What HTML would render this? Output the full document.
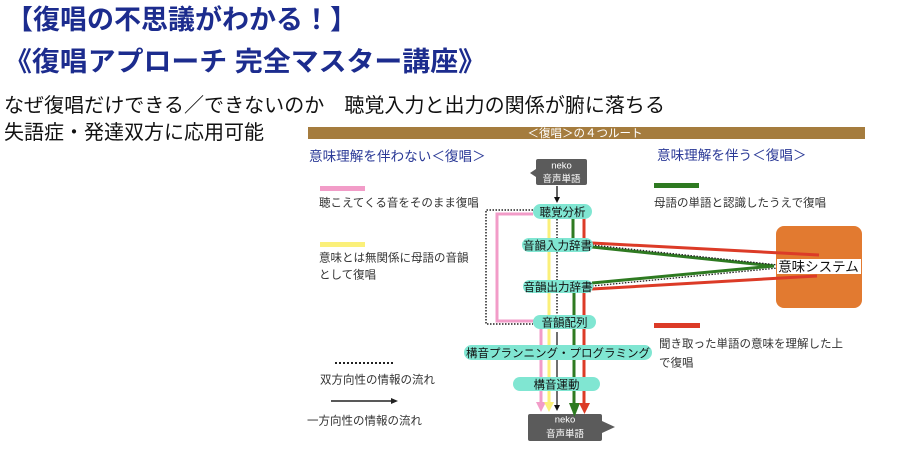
<!DOCTYPE html>
<html><head><meta charset="utf-8">
<style>
html,body{margin:0;padding:0;background:#fff;}
body{width:920px;height:450px;overflow:hidden;}
svg{display:block;}
text{font-family:"Liberation Sans","Noto Sans CJK JP",sans-serif;}
</style></head>
<body>
<svg width="920" height="450" viewBox="0 0 920 450" xmlns="http://www.w3.org/2000/svg">
<!-- Titles -->
<text x="6" y="29" font-size="27" font-weight="bold" fill="#1c2c8e" textLength="351" lengthAdjust="spacingAndGlyphs">【復唱の不思議がわかる！】</text>
<text x="4" y="71" font-size="27" font-weight="bold" fill="#1c2c8e" textLength="482" lengthAdjust="spacingAndGlyphs">《復唱アプローチ 完全マスター講座》</text>
<text x="4" y="112" font-size="20" fill="#111" textLength="661" lengthAdjust="spacingAndGlyphs">なぜ復唱だけできる／できないのか　聴覚入力と出力の関係が腑に落ちる</text>
<text x="4" y="139" font-size="20" fill="#111" textLength="260" lengthAdjust="spacingAndGlyphs">失語症・発達双方に応用可能</text>

<!-- Brown bar -->
<rect x="308" y="127" width="557" height="12" fill="#a57c3e"/>
<text x="585" y="137" font-size="11.5" fill="#fff" text-anchor="middle">＜復唱＞の４つルート</text>

<!-- Headings -->
<text x="309" y="161" font-size="13.6" fill="#2b3a97">意味理解を伴わない＜復唱＞</text>
<text x="657" y="160" font-size="13.6" fill="#2b3a97">意味理解を伴う＜復唱＞</text>

<!-- Legends left -->
<rect x="320" y="186" width="45" height="5" fill="#f29cc8"/>
<text x="319" y="206.5" font-size="11.5" fill="#333">聴こえてくる音をそのまま復唱</text>
<rect x="320" y="242" width="45" height="5" fill="#fbf07a"/>
<text x="319" y="261.5" font-size="11.5" fill="#333">意味とは無関係に母語の音韻</text>
<text x="319" y="278.5" font-size="11.5" fill="#333">として復唱</text>

<line x1="335" y1="363" x2="394" y2="363" stroke="#222" stroke-width="2" stroke-dasharray="2 2"/>
<text x="320" y="383.5" font-size="11.5" fill="#333">双方向性の情報の流れ</text>
<line x1="331" y1="401" x2="392" y2="401" stroke="#222" stroke-width="1.5"/>
<polygon points="391,398 398,401 391,404" fill="#222"/>
<text x="307" y="424.5" font-size="11.5" fill="#333">一方向性の情報の流れ</text>

<!-- Legends right -->
<rect x="654" y="183" width="45" height="5" fill="#2e7a21"/>
<text x="654" y="206.5" font-size="11.5" fill="#333">母語の単語と認識したうえで復唱</text>
<rect x="654" y="323" width="46" height="5" fill="#dc3b27"/>
<text x="659" y="347.5" font-size="11.5" fill="#333">聞き取った単語の意味を理解した上</text>
<text x="659" y="366.5" font-size="11.5" fill="#333">で復唱</text>

<!-- Orange semantic box -->
<rect x="776" y="226" width="86" height="82" rx="8" fill="#e27a30"/>

<!-- Top neko box -->
<rect x="536" y="159" width="51" height="26" rx="2" fill="#5b5b5b"/>
<polygon points="536,169 530,173 536,177" fill="#5b5b5b"/>
<text x="561.5" y="168.5" font-size="9.5" fill="#fff" text-anchor="middle">neko</text>
<text x="561.5" y="182" font-size="9.5" fill="#fff" text-anchor="middle">音声単語</text>
<line x1="557" y1="186" x2="557" y2="198" stroke="#111" stroke-width="1.3"/>
<polygon points="554,197 560,197 557,203" fill="#111"/>

<!-- Dotted rectangle -->
<path d="M533,210 H486 V324 H533" fill="none" stroke="#222" stroke-width="1.5" stroke-dasharray="1.5 1.5"/>
<!-- Pink loop -->
<path d="M533,214 H497 V321 H535" fill="none" stroke="#f29cc8" stroke-width="3"/>

<!-- Upper verticals -->
<line x1="549" y1="218" x2="549" y2="316" stroke="#fbf07a" stroke-width="3"/>
<line x1="557" y1="219" x2="557" y2="315" stroke="#222" stroke-width="1.5" stroke-dasharray="1.5 1.5"/>
<line x1="573" y1="218" x2="573" y2="239" stroke="#2e7a21" stroke-width="3"/>
<line x1="584" y1="218" x2="584" y2="239" stroke="#dc3b27" stroke-width="3"/>
<line x1="574" y1="292" x2="574" y2="316" stroke="#2e7a21" stroke-width="3"/>
<line x1="584" y1="292" x2="584" y2="316" stroke="#dc3b27" stroke-width="3"/>

<!-- Lines to semantic system -->
<line x1="592" y1="243" x2="819" y2="255" stroke="#dc3b27" stroke-width="3"/>
<line x1="592" y1="247" x2="774" y2="266" stroke="#2e7a21" stroke-width="3"/>
<line x1="592" y1="245" x2="778" y2="265" stroke="#222" stroke-width="1.3" stroke-dasharray="1.5 1.5"/>
<line x1="592" y1="283" x2="774" y2="266" stroke="#2e7a21" stroke-width="3"/>
<line x1="592" y1="286" x2="778" y2="268" stroke="#222" stroke-width="1.3" stroke-dasharray="1.5 1.5"/>
<line x1="592" y1="289" x2="817" y2="276" stroke="#dc3b27" stroke-width="3"/>

<!-- Semantic label strip -->
<rect x="777" y="259" width="84" height="15" fill="#fff"/>
<text x="818.5" y="271.5" font-size="13.5" fill="#111" text-anchor="middle">意味システム</text>

<!-- Lower verticals -->
<line x1="541" y1="328" x2="541" y2="403" stroke="#f29cc8" stroke-width="3"/>
<polygon points="536,402 546,402 541,412" fill="#f29cc8"/>
<line x1="549" y1="328" x2="549" y2="403" stroke="#fbf07a" stroke-width="3"/>
<polygon points="544,402 554,402 549,412" fill="#fbf07a"/>
<line x1="557" y1="332" x2="557" y2="406" stroke="#111" stroke-width="1.2"/>
<polygon points="554,405 560,405 557,411" fill="#111"/>
<line x1="574" y1="328" x2="574" y2="404" stroke="#2e7a21" stroke-width="3"/>
<line x1="584" y1="328" x2="584" y2="404" stroke="#dc3b27" stroke-width="3"/>

<!-- Pills -->
<g fill="#80e6d2">
<rect x="533" y="204" width="59" height="15" rx="7.5"/>
<rect x="522" y="238" width="71" height="14" rx="7"/>
<rect x="523" y="280" width="70" height="13" rx="6.5"/>
<rect x="533" y="315" width="63" height="14" rx="7"/>
<rect x="464" y="345" width="188" height="15" rx="7.5"/>
<rect x="513" y="377" width="87" height="14" rx="7"/>
</g>
<g font-size="11.5" fill="#111" text-anchor="middle">
<text x="562.5" y="215.8">聴覚分析</text>
<text x="557.5" y="249.3">音韻入力辞書</text>
<text x="558" y="290.8">音韻出力辞書</text>
<text x="564.5" y="326.3">音韻配列</text>
<text x="558" y="356.8">構音プランニング・プログラミング</text>
<text x="556.5" y="388.3">構音運動</text>
</g>

<!-- Bottom neko box -->
<rect x="528" y="414" width="74" height="27" rx="2" fill="#5b5b5b"/>
<polygon points="602,421 615,427 602,433" fill="#5b5b5b"/>
<polygon points="569,403 580,403 574.5,417" fill="#2e7a21"/>
<polygon points="579,403 590,403 584.5,414" fill="#dc3b27"/>
<text x="565" y="422.5" font-size="9.5" fill="#fff" text-anchor="middle">neko</text>
<text x="565" y="437" font-size="9.5" fill="#fff" text-anchor="middle">音声単語</text>
</svg>
</body></html>
